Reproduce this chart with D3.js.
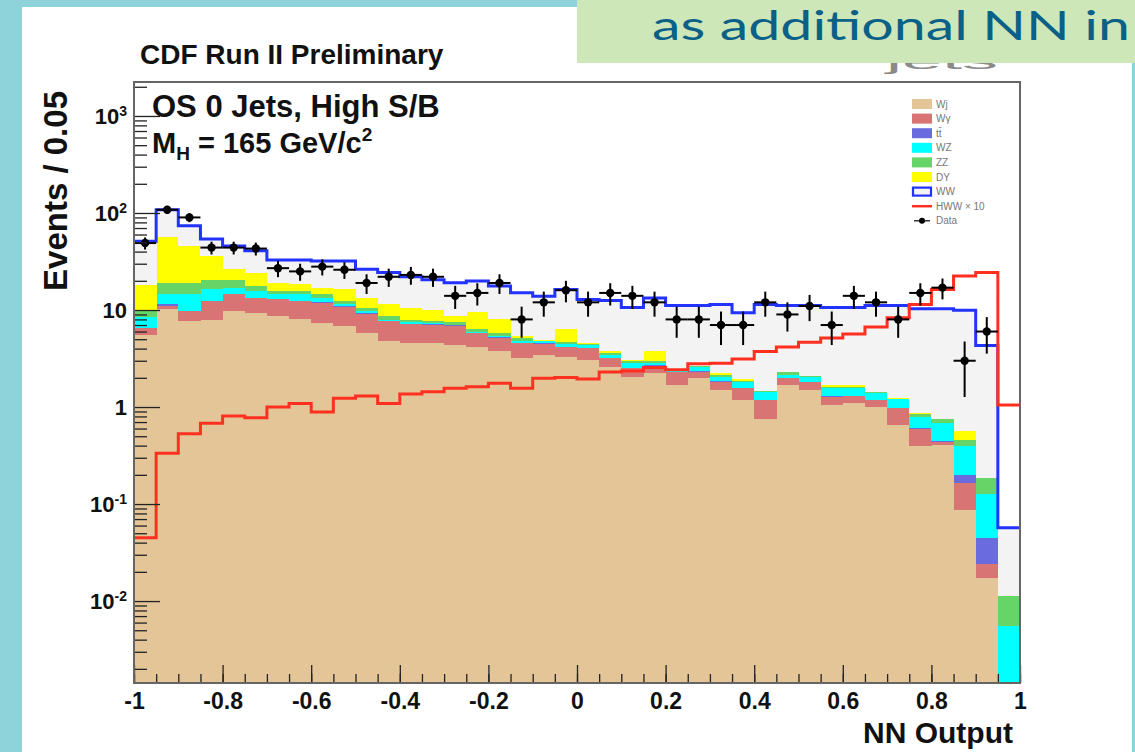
<!DOCTYPE html>
<html>
<head>
<meta charset="utf-8">
<script src="https://cdn.jsdelivr.net/npm/d3@7"></script>
<style>
body { margin: 0; background: #8fd3da; }
svg { display: block; }
</style>
</head>
<body>
<svg id="chart" width="1135" height="752"></svg>
<script>
// NN output histogram, 40 bins of 0.05 from -1 to 1
const bin_width = 0.05;
const bin_low = d3.range(40).map(i => -1 + i * bin_width);

// background components, stacked bottom to top
const wj = [5.48, 10.3, 7.65, 7.98, 9.73, 9.35, 8.6, 8.1, 7.37, 6.8,
    5.8, 4.76, 4.56, 4.56, 4.4, 4.2, 3.74, 3.2, 3.46, 3.3,
    3.07, 2.61, 2.06, 2.23, 1.69, 1.98, 1.5, 1.18, 0.76, 1.69,
    1.5, 1.05, 1.09, 1.0, 0.65, 0.4, 0.404, 0.086, 0.0173, 0];
const wgamma = [1.01, 0.8, 2.08, 4.32, 4.77, 3.95, 4.4, 4.2, 4.53, 4.0,
    3.4, 2.89, 2.64, 2.51, 2.5, 1.6, 1.46, 1.4, 1.04, 0.86,
    0.99, 0.59, 0.46, 0.43, 0.58, 0.34, 0.33, 0.38, 0.42, 0.29,
    0.29, 0.23, 0.21, 0.18, 0.32, 0.2, 0.033, 0.077, 0.0069, 0];
const ttbar = [0.06, 0.3, 0.12, 0.1, 0.1, 0.1, 0.1, 0.1, 0.1, 0.1,
    0.1, 0.05, 0.05, 0.03, 0.05, 0.02, 0.02, 0.02, 0.02, 0.02,
    0.02, 0.02, 0.02, 0.02, 0.01, 0.01, 0.01, 0.01, 0.01, 0.01,
    0.01, 0.01, 0.01, 0.01, 0.01, 0.01, 0.013, 0.034, 0.0208, 0];
const wz = [1.83, 3.1, 4.65, 3.9, 2.3, 2.3, 1.4, 2.1, 1.3, 0.5,
    0.43, 0.28, 0.25, 0.27, 0.12, 0.08, 0.13, 0.14, 0.24, 0.32,
    0.32, 0.24, 0.29, 0.15, 0.1, 0.28, 0.22, 0.22, 0.25, 0.15,
    0.23, 0.27, 0.25, 0.22, 0.22, 0.18, 0.238, 0.203, 0.083, 0.0055];
const zz = [1.57, 4.6, 4.6, 4.3, 3.7, 2.0, 1.2, 1.2, 1.2, 0.9,
    0.87, 0.62, 0.48, 0.28, 0.4, 0.47, 0.45, 0.39, 0.04, 0.14,
    0.1, 0.14, 0.12, 0.12, 0.01, 0.02, 0.09, 0.06, 0.01, 0.13,
    0.06, 0.06, 0.06, 0.01, 0.02, 0.06, 0.058, 0.055, 0.056, 0.0058];
const dy = [8.15, 37.3, 26.7, 15.5, 5.7, 6.6, 3.4, 2.7, 2.4, 4.0,
    2.7, 2.8, 2.62, 2.35, 1.27, 3.13, 2.3, 0.2, 0.07, 1.73,
    0.06, 0.14, 0.07, 0.79, 0.01, 0.02, 0.08, 0.09, 0.01, 0.01,
    0.01, 0.07, 0.07, 0.01, 0.01, 0.01, 0.014, 0.115, 0.001, 0];
const ww = [32.9, 51.6, 28.0, 17.7, 19.5, 16.4, 13.7, 14.4, 15.1, 15.7,
    13.0, 12.9, 11.4, 10.5, 10.4, 10.4, 9.6, 9.75, 9.03, 9.93,
    8.24, 8.76, 7.58, 9.56, 8.7, 8.45, 9.17, 7.41, 9.94, 8.82,
    9.0, 8.91, 8.91, 9.67, 9.87, 9.44, 9.54, 9.4, 4.115, 0.0457];

// signal, M_H = 165, scaled x10
const hww_x10 = [0.045, 0.333, 0.53, 0.68, 0.81, 0.775, 1.0, 1.09, 0.89, 1.23,
    1.3, 1.09, 1.36, 1.44, 1.56, 1.62, 1.76, 1.56, 1.98, 2.01,
    1.94, 2.3, 2.35, 2.55, 2.42, 2.8, 2.83, 3.12, 3.74, 4.16,
    4.64, 5.15, 5.66, 6.7, 8.3, 11.4, 16.3, 22.4, 24.3, 1.05];

// observed events per bin
const data_counts = [49, 108, 90, 44, 44, 43, 27, 25, 28, 26,
    19, 22, 23, 22, 14, 15, 19, 8, 12, 16,
    12, 15, 14, 12, 8, 8, 7, 7, 12, 9,
    11, 7, 14, 12, 8, 15, 17, 3, 6, null];

const x_tick_values = [-1, -0.8, -0.6, -0.4, -0.2, 0, 0.2, 0.4, 0.6, 0.8, 1];
const y_tick_values = [0.01, 0.1, 1, 10, 100, 1000];
const legend_labels = ['Wj', 'W\u03b3', 't\u0074\u0304', 'WZ', 'ZZ', 'DY', 'WW', 'HWW \u00d7 10', 'Data'];

const keys = ['wj', 'wgamma', 'ttbar', 'wz', 'zz', 'dy', 'ww'];
const fills = {
    wj: '#e3c598', wgamma: '#d87474', ttbar: '#6b6be0', wz: '#00ffff',
    zz: '#66d466', dy: '#ffff00', ww: '#f3f3f3'
};
const ww_line = '#2233ff';
const hww_line = '#ff3020';
const bold_font = '"Liberation Sans", Arial, Helvetica, sans-serif';

const frame = {left: 134, right: 1020, top: 82, bottom: 683};
const y_min = 0.00143, y_max = 2240;
const banner_h = 63;

const svg = d3.select('#chart');
const defs = svg.append('defs');

// slide background
svg.append('rect').attr('width', 1135).attr('height', 752).attr('fill', '#8fd3da');
svg.append('rect').attr('x', 22).attr('y', 7).attr('width', 1110).attr('height', 745).attr('fill', '#fff');

// slide title text, only its lower edge peeks out under the banner
defs.append('clipPath').attr('id', 'under-banner')
    .append('rect').attr('x', 577).attr('y', banner_h).attr('width', 558).attr('height', 40);
svg.append('text').attr('x', 886).attr('y', 69)
    .attr('clip-path', 'url(#under-banner)')
    .attr('font-family', bold_font).attr('font-size', 22).attr('fill', '#8a8a8a')
    .attr('textLength', 112).attr('lengthAdjust', 'spacingAndGlyphs')
    .text('jets');

svg.append('rect').attr('x', 577).attr('y', 0).attr('width', 558).attr('height', banner_h).attr('fill', '#cde7b8');
svg.append('text').attr('x', 652).attr('y', 40)
    .attr('font-family', 'Lato, "Open Sans", sans-serif').attr('font-size', 40)
    .attr('fill', '#0b6087')
    .attr('textLength', 478).attr('lengthAdjust', 'spacingAndGlyphs')
    .text('as additional NN in');

const x = d3.scaleLinear().domain([-1, 1]).range([frame.left, frame.right]);
const y = d3.scaleLog().domain([y_min, y_max]).range([frame.bottom, frame.top]);
const clamp = v => Math.max(v, y_min);

defs.append('clipPath').attr('id', 'plot-clip')
    .append('rect')
    .attr('x', frame.left).attr('y', frame.top)
    .attr('width', frame.right - frame.left).attr('height', frame.bottom - frame.top);

const plot = svg.append('g').attr('clip-path', 'url(#plot-clip)');

const rows = bin_low.map((b, i) => ({
    b, wj: wj[i], wgamma: wgamma[i], ttbar: ttbar[i], wz: wz[i], zz: zz[i], dy: dy[i], ww: ww[i]
}));
const layers = d3.stack().keys(keys)(rows);

layers.forEach(layer => {
    plot.append('g').attr('shape-rendering', 'crispEdges')
        .selectAll('rect')
        .data(layer.filter(d => d[1] > y_min && d[1] > d[0]))
        .join('rect')
        .attr('x', d => x(d.data.b))
        .attr('width', d => x(d.data.b + bin_width) - x(d.data.b) + 0.6)
        .attr('y', d => y(clamp(d[1])))
        .attr('height', d => y(clamp(d[0])) - y(clamp(d[1])))
        .attr('fill', fills[layer.key]);
});

const step = d3.line()
    .x(d => x(d[0]))
    .y(d => y(clamp(d[1])))
    .curve(d3.curveStepAfter);

const total = layers[layers.length - 1].map(d => d[1]);
const step_points = vals => bin_low.map((b, i) => [b, vals[i]]).concat([[1, vals[vals.length - 1]]]);

plot.append('path')
    .attr('d', step(step_points(total)))
    .attr('fill', 'none').attr('stroke', ww_line).attr('stroke-width', 3);

plot.append('path')
    .attr('d', step(step_points(hww_x10)))
    .attr('fill', 'none').attr('stroke', hww_line).attr('stroke-width', 3);

// data with sqrt(N) errors
const points = bin_low.map((b, i) => ({b, n: data_counts[i]})).filter(d => d.n != null);
const pts = plot.append('g');
pts.selectAll('line.ex').data(points).join('line').attr('class', 'ex')
    .attr('x1', d => x(d.b)).attr('x2', d => x(d.b + bin_width))
    .attr('y1', d => y(d.n)).attr('y2', d => y(d.n))
    .attr('stroke', '#000').attr('stroke-width', 2);
pts.selectAll('line.ey').data(points).join('line').attr('class', 'ey')
    .attr('x1', d => x(d.b + bin_width / 2)).attr('x2', d => x(d.b + bin_width / 2))
    .attr('y1', d => y(d.n + Math.sqrt(d.n))).attr('y2', d => y(clamp(d.n - Math.sqrt(d.n))))
    .attr('stroke', '#000').attr('stroke-width', 2);
pts.selectAll('circle').data(points).join('circle')
    .attr('cx', d => x(d.b + bin_width / 2)).attr('cy', d => y(d.n))
    .attr('r', 4.2).attr('fill', '#000');

// axes, ticks pointing into the frame
const x_minor = d3.axisBottom(x).tickValues(bin_low.concat([1])).tickSize(-9).tickFormat('');
const x_major = d3.axisBottom(x).tickValues(x_tick_values).tickSize(-18).tickPadding(10)
    .tickFormat(d => String(d));

const gx_minor = svg.append('g').attr('transform', `translate(0,${frame.bottom})`).call(x_minor);
const gx = svg.append('g').attr('transform', `translate(0,${frame.bottom})`).call(x_major);
[gx_minor, gx].forEach(g => {
    g.select('.domain').remove();
    g.selectAll('line').attr('stroke', '#222').attr('stroke-width', 1.3);
});
gx.selectAll('text')
    .attr('font-family', bold_font).attr('font-weight', 'bold').attr('font-size', 23).attr('fill', '#111');

const y_minor_values = [];
for (let k = -3; k <= 3; k++) {
    for (let m = 2; m <= 9; m++) {
        const v = m * Math.pow(10, k);
        if (v > y_min && v < y_max) y_minor_values.push(v);
    }
}
const y_minor = d3.axisLeft(y).tickValues(y_minor_values).tickSize(-13).tickFormat('');
const y_major = d3.axisLeft(y).tickValues(y_tick_values).tickSize(-26).tickPadding(7).tickFormat('');

const gy_minor = svg.append('g').attr('transform', `translate(${frame.left},0)`).call(y_minor);
const gy = svg.append('g').attr('transform', `translate(${frame.left},0)`).call(y_major);
[gy_minor, gy].forEach(g => {
    g.select('.domain').remove();
    g.selectAll('line').attr('stroke', '#222').attr('stroke-width', 1.3);
});
gy.selectAll('text').each(function (d) {
    const t = d3.select(this)
        .attr('font-family', bold_font).attr('font-weight', 'bold').attr('font-size', 22).attr('fill', '#111');
    const e = Math.round(Math.log10(d));
    if (e === 0) t.text('1');
    else if (e === 1) t.text('10');
    else {
        t.append('tspan').text('10');
        t.append('tspan').attr('dy', '-0.55em').attr('font-size', 14).text(e);
    }
});

// frame
svg.append('rect')
    .attr('x', frame.left).attr('y', frame.top)
    .attr('width', frame.right - frame.left).attr('height', frame.bottom - frame.top)
    .attr('fill', 'none').attr('stroke', '#666').attr('stroke-width', 2);

// titles
svg.append('text').attr('x', 140).attr('y', 64)
    .attr('font-family', bold_font).attr('font-weight', 'bold').attr('font-size', 28).attr('fill', '#111')
    .text('CDF Run II Preliminary');
svg.append('text').attr('x', 152).attr('y', 117)
    .attr('font-family', bold_font).attr('font-weight', 'bold').attr('font-size', 31).attr('fill', '#111')
    .text('OS 0 Jets, High S/B');
const mh = svg.append('text').attr('x', 152).attr('y', 153)
    .attr('font-family', bold_font).attr('font-weight', 'bold').attr('font-size', 29).attr('fill', '#111');
mh.append('tspan').text('M');
mh.append('tspan').attr('dy', 7).attr('font-size', 19).text('H');
mh.append('tspan').attr('dy', -7).text(' = 165 GeV/c');
mh.append('tspan').attr('dy', -12).attr('font-size', 19).text('2');

svg.append('text')
    .attr('transform', 'translate(67,91) rotate(-90)')
    .attr('text-anchor', 'end')
    .attr('font-family', bold_font).attr('font-weight', 'bold').attr('font-size', 33).attr('fill', '#111')
    .text('Events / 0.05');
svg.append('text').attr('x', 1013).attr('y', 743).attr('text-anchor', 'end')
    .attr('font-family', bold_font).attr('font-weight', 'bold').attr('font-size', 30).attr('fill', '#111')
    .text('NN Output');

// legend
const legend = svg.append('g').attr('transform', 'translate(912,104)');
const row_h = 14.6;
legend_labels.forEach((label, i) => {
    const g = legend.append('g').attr('transform', `translate(0,${i * row_h})`);
    if (i < 6) {
        g.append('rect').attr('x', 0).attr('y', -5).attr('width', 20).attr('height', 10)
            .attr('fill', fills[keys[i]]);
    } else if (i === 6) {
        g.append('rect').attr('x', 1).attr('y', -4).attr('width', 18).attr('height', 8)
            .attr('fill', fills.ww).attr('stroke', ww_line).attr('stroke-width', 2.2);
    } else if (i === 7) {
        g.append('line').attr('x1', 0).attr('x2', 20).attr('y1', 0).attr('y2', 0)
            .attr('stroke', hww_line).attr('stroke-width', 2.5);
    } else {
        g.append('line').attr('x1', 2).attr('x2', 18).attr('y1', 0).attr('y2', 0)
            .attr('stroke', '#000').attr('stroke-width', 1.2);
        g.append('circle').attr('cx', 10).attr('cy', 0).attr('r', 3).attr('fill', '#000');
    }
    g.append('text').attr('x', 24).attr('y', 3.5)
        .attr('font-family', bold_font).attr('font-size', 10).attr('fill', '#777')
        .text(label);
});
</script>
</body>
</html>
